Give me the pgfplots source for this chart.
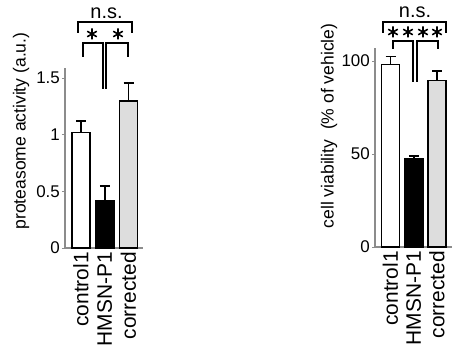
\documentclass[border=0pt]{standalone}
\usepackage{fontspec}
\setmainfont{Liberation Sans}
\usepackage{pgfplots}
\pgfplotsset{compat=1.18}
\definecolor{lightg}{RGB}{221,221,221}
\definecolor{axgray}{RGB}{140,140,140}
\pgfplotsset{
  mybars/.style={
    scale only axis, anchor=south west, clip=false,
    axis x line*=bottom, axis y line*=left,
    axis line style={draw=axgray, line width=1.2pt, -},
    major tick length=3bp, tick align=outside,
    ytick style={draw=axgray, line width=0.8pt},
    xtick style={draw=none},
    /pgf/number format/assume math mode=true,
    yticklabel style={font=\fontsize{17}{17}\selectfont, inner sep=2bp},
    xtick={0,1,2}, xticklabels={control1,HMSN-P1,corrected},
    xticklabel style={font=\fontsize{21}{21}\selectfont, rotate=90, anchor=east, inner sep=1bp},
    ybar, bar width=18bp,
  },
  bb/.style={bar shift=0pt, draw=black, line width=1.5pt,
    error bars/y dir=plus, error bars/y explicit,
    error bars/error bar style={line width=1.6pt, black},
    error bars/error mark options={rotate=90, line width=1.6pt, mark size=5bp, black}},
}
\tikzset{star/.pic={\draw[line width=1.6pt] (90:5.5bp)--(270:5.5bp) (30:5.5bp)--(210:5.5bp) (150:5.5bp)--(330:5.5bp);}}
\begin{document}
\begin{tikzpicture}[x=1bp,y=1bp]
\useasboundingbox (0,0) rectangle (458bp,353bp);
% left panel
\begin{axis}[mybars, at={(65bp,105bp)}, width=78bp, height=180bp,
  xmin=-0.674, xmax=2.61, ymin=0, ymax=1.59,
  ytick={0,0.5,1,1.5}]
\addplot[bb, fill=white] coordinates {(0,1.02) +- (0,0.10)};
\addplot[bb, fill=black] coordinates {(1,0.42) +- (0,0.13)};
\addplot[bb, fill=lightg] coordinates {(2,1.30) +- (0,0.16)};
\end{axis}
% right panel
\begin{axis}[mybars, at={(375bp,106bp)}, width=77bp, height=199bp,
  xmin=-0.667, xmax=2.645, ymin=0, ymax=107,
  ytick={0,50,100}]
\addplot[bb, fill=white] coordinates {(0,98.0) +- (0,4.5)};
\addplot[bb, fill=black] coordinates {(1,47.5) +- (0,1.3)};
\addplot[bb, fill=lightg] coordinates {(2,89.5) +- (0,5.0)};
\end{axis}
% y labels
\node[rotate=90, font=\fontsize{17.6}{17.6}\selectfont] at (21bp,222bp) {proteasome activity (a.u.)};
\node[rotate=90, font=\fontsize{17.6}{17.6}\selectfont] at (329bp,227bp) {cell viability\ \ (\% of vehicle)};
% significance, left
\begin{scope}[line width=1.5pt, x=1bp, y=1bp]
\node[anchor=base, font=\fontsize{20}{20}\selectfont, inner sep=0] at (106.5,335) {n.s.};
\draw (78,320) -- (78,331) -- (132,331) -- (132,320);
\draw (83,296) -- (83,310) -- (103,310) -- (103,264);
\draw (106,264) -- (106,310) -- (128,310) -- (128,296);
\foreach \x in {92,118} \pic at (\x,319) {star};
% significance, right
\node[anchor=base, font=\fontsize{20}{20}\selectfont, inner sep=0] at (415,336) {n.s.};
\draw (383,320) -- (383,331) -- (446,331) -- (446,320);
\draw (393,304) -- (393,312) -- (413,312) -- (413,271);
\draw (417,271) -- (417,312) -- (438,312) -- (438,304);
\foreach \x in {393,408,423,437} \pic at (\x,321) {star};
\end{scope}
\end{tikzpicture}
\end{document}
